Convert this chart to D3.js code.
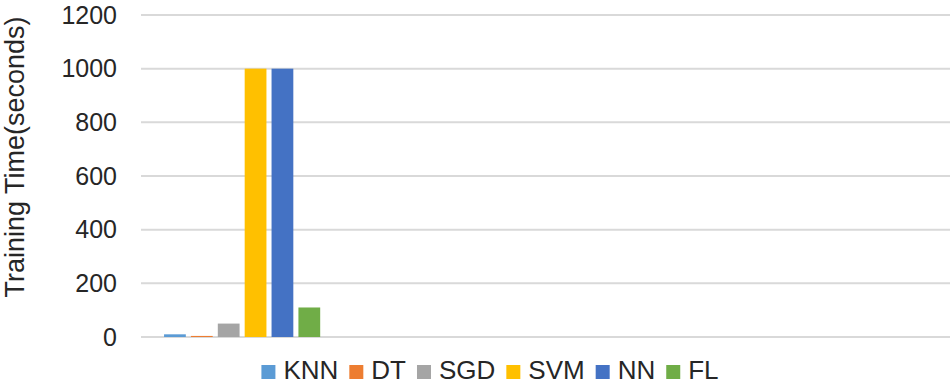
<!DOCTYPE html>
<html>
<head>
<meta charset="utf-8">
<script src="https://cdn.jsdelivr.net/npm/d3@7"></script>
<style>
  html, body { margin: 0; padding: 0; background: #fff; }
  svg { display: block; }
</style>
</head>
<body>
<svg id="chart"></svg>
<script>
/* ── Data ── */
const seriesNames  = ['KNN', 'DT', 'SGD', 'SVM', 'NN', 'FL'];
const seriesValues = [10, 4, 50, 1000, 1000, 110];
const seriesColors = ['#5b9bd5', '#ed7d31', '#a5a5a5', '#ffc000', '#4472c4', '#70ad47'];
const yTicks       = [0, 200, 400, 600, 800, 1000, 1200];
const slots        = ['s1', 's2', 's3', 's4'];   // category slots on the axis, only the first holds data

const FONT = '"Liberation Sans", Arial, Helvetica, sans-serif';
const W = 950, H = 387;
const margin = { top: 15, right: 0, bottom: 50, left: 141 };
const iW = W - margin.left - margin.right;
const iH = 337 - margin.top;

const svg = d3.select('#chart')
  .attr('width', W)
  .attr('height', H)
  .attr('viewBox', `0 0 ${W} ${H}`);

const g = svg.append('g')
  .attr('transform', `translate(${margin.left},${margin.top})`);

/* ── Scales ── */
const y = d3.scaleLinear().domain([0, 1200]).range([iH, 0]);

const x0 = d3.scaleBand()
  .domain(slots)
  .range([0, iW])
  .paddingInner(0.228)
  .paddingOuter(0.114);

const x1 = d3.scaleBand()
  .domain(seriesNames)
  .range([0, x0.bandwidth()])
  .paddingInner(0.19)
  .paddingOuter(0);

/* ── Grid lines ── */
g.append('g')
  .selectAll('line')
  .data(yTicks)
  .join('line')
  .attr('x1', 0)
  .attr('x2', iW)
  .attr('y1', d => y(d))
  .attr('y2', d => y(d))
  .attr('stroke', '#d9d9d9')
  .attr('stroke-width', 2);

/* ── Y axis labels ── */
g.append('g')
  .call(d3.axisLeft(y).tickValues(yTicks).tickFormat(d3.format('d')).tickSize(0).tickPadding(24))
  .call(ax => ax.select('.domain').remove())
  .call(ax => ax.selectAll('.tick text')
    .attr('fill', '#262626')
    .attr('font-size', 25)
    .attr('font-family', FONT));

/* ── Bars ── */
const grp = g.append('g')
  .attr('transform', `translate(${x0(slots[0])},0)`);

grp.selectAll('rect')
  .data(seriesNames.map((n, i) => ({ name: n, value: seriesValues[i], color: seriesColors[i] })))
  .join('rect')
  .attr('x', d => x1(d.name))
  .attr('y', d => y(d.value))
  .attr('width', x1.bandwidth())
  .attr('height', d => iH - y(d.value))
  .attr('fill', d => d.color);

/* ── Y axis title ── */
svg.append('text')
  .attr('transform', 'translate(24,157) rotate(-90)')
  .attr('text-anchor', 'middle')
  .attr('fill', '#262626')
  .attr('font-size', 27)
  .attr('font-family', FONT)
  .text('Training Time(seconds)');

/* ── Legend ── */
const SQ = 14, GAP = 8, SPACE = 11;
const legend = svg.append('g');
let lx = 0;
seriesNames.forEach((name, i) => {
  const item = legend.append('g').attr('transform', `translate(${lx},0)`);
  item.append('rect')
    .attr('x', 0).attr('y', 365)
    .attr('width', SQ).attr('height', SQ)
    .attr('fill', seriesColors[i]);
  const t = item.append('text')
    .attr('x', SQ + GAP).attr('y', 379)
    .attr('fill', '#262626')
    .attr('font-size', 26)
    .attr('font-family', FONT)
    .text(name);
  lx += SQ + GAP + t.node().getComputedTextLength() + SPACE;
});
const legendW = lx - SPACE;
legend.attr('transform', `translate(${490 - legendW / 2},0)`);
</script>
</body>
</html>
